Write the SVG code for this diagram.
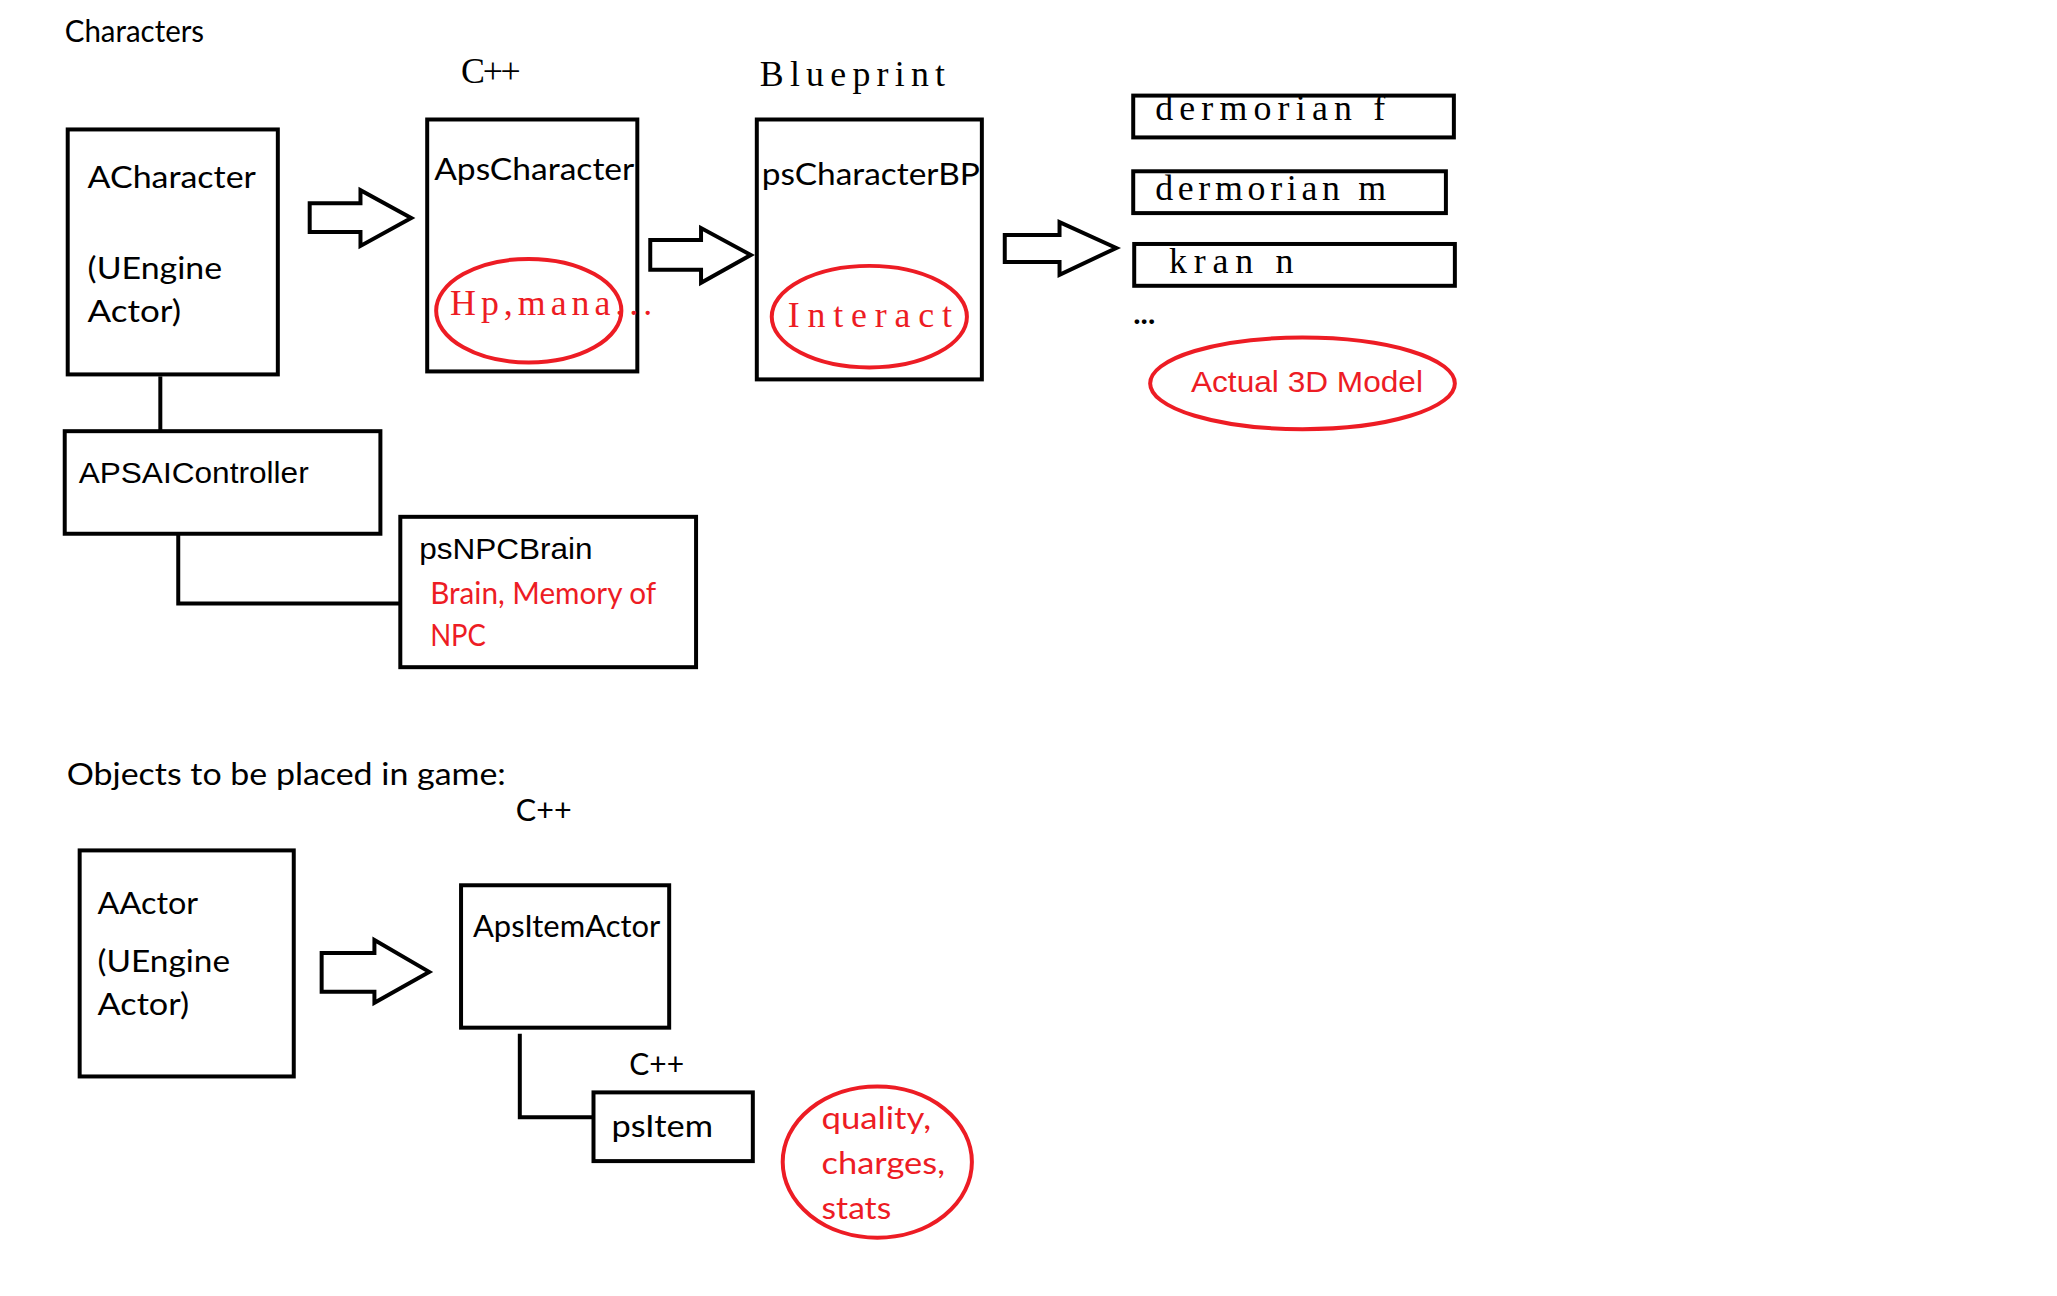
<svg xmlns="http://www.w3.org/2000/svg" width="2057" height="1296" viewBox="0 0 2057 1296">
<style>
.box{fill:#fff;stroke:#000;stroke-width:4}
.arr{fill:#fff;stroke:#000;stroke-width:4;stroke-linejoin:miter}
.ell{fill:none;stroke:#ED1C24;stroke-width:4}
.ln{fill:none;stroke:#000;stroke-width:4}
.cal{font-family:Lato,"Open Sans",sans-serif;font-size:31px;fill:#000}
.ari{font-family:"Liberation Sans",Arial,sans-serif;font-size:30px;fill:#000}
.mono{font-family:"Liberation Serif","Times New Roman",serif;font-size:36px;fill:#000}
.red{fill:#ED1C24}
</style>
<rect width="2057" height="1296" fill="#fff"/>
<g transform="scale(0.9958)">
<text class="cal" x="65" y="42" font-size="28" textLength="140" lengthAdjust="spacingAndGlyphs">Characters</text>
<text class="mono" x="463" y="83" font-size="31" textLength="60" lengthAdjust="spacing">C++</text>
<text class="mono" x="763" y="86" font-size="35" textLength="186" lengthAdjust="spacing">Blueprint</text>
<text class="cal" x="67" y="788" font-size="32" textLength="441" lengthAdjust="spacingAndGlyphs">Objects to be placed in game:</text>
<text class="cal" x="518" y="824" font-size="30" textLength="56" lengthAdjust="spacingAndGlyphs">C++</text>
<text class="cal" x="632" y="1080" font-size="30" textLength="55" lengthAdjust="spacingAndGlyphs">C++</text>
<text class="cal" x="1138" y="325" font-size="28" font-weight="bold">...</text>
<g id="connectors">
<line class="ln" x1="161" y1="378" x2="161" y2="432"/>
<polyline class="ln" points="179,537 179,606 402,606"/>
<polyline class="ln" points="522,1038 522,1122 596,1122"/>
<polygon class="arr" points="311,204 362,204 362,191 413,219 362,247 362,233 311,233"/>
<polygon class="arr" points="653,241 704,241 704,229 754,256 704,284 704,271 653,271"/>
<polygon class="arr" points="1009,236 1064,236 1064,223 1121,249 1064,276 1064,263 1009,263"/>
<polygon class="arr" points="323,957 376,957 376,944 431,976 376,1007 376,996 323,996"/>
</g>
<g id="ACharacter">
<rect class="box" x="68" y="130" width="211" height="246"/>
<text class="cal" x="88" y="189" textLength="169" lengthAdjust="spacingAndGlyphs">ACharacter</text>
<text class="cal" x="88" y="280" textLength="135" lengthAdjust="spacingAndGlyphs">(UEngine</text>
<text class="cal" x="88" y="323" textLength="94" lengthAdjust="spacingAndGlyphs">Actor)</text>
</g>
<g id="ApsCharacter">
<rect class="box" x="429" y="120" width="211" height="253"/>
<text class="cal" x="436" y="181" textLength="201" lengthAdjust="spacingAndGlyphs">ApsCharacter</text>
<ellipse class="ell" cx="531" cy="312" rx="93" ry="52"/>
<text class="mono red" x="452" y="316" font-size="34" textLength="203" lengthAdjust="spacing">Hp,mana...</text>
</g>
<g id="psCharacterBP">
<rect class="box" x="760" y="120" width="226" height="261"/>
<text class="cal" x="765" y="186" textLength="219" lengthAdjust="spacingAndGlyphs">psCharacterBP</text>
<ellipse class="ell" cx="873" cy="318" rx="98" ry="51"/>
<text class="mono red" x="791" y="328" textLength="165" lengthAdjust="spacing">Interact</text>
</g>
<g id="dermorian_f">
<rect class="box" x="1138" y="96" width="322" height="42"/>
<text class="mono" x="1160" y="121" textLength="231" lengthAdjust="spacing">dermorian f</text>
</g>
<g id="dermorian_m">
<rect class="box" x="1138" y="172" width="314" height="42"/>
<text class="mono" x="1160" y="201" textLength="232" lengthAdjust="spacing">dermorian m</text>
</g>
<g id="kran_n">
<rect class="box" x="1139" y="245" width="322" height="42"/>
<text class="mono" x="1174" y="274" textLength="125" lengthAdjust="spacing">kran n</text>
</g>
<g id="actual3d">
<ellipse class="ell" cx="1308" cy="385" rx="153" ry="46"/>
<text class="ari red" x="1196" y="394" textLength="233" lengthAdjust="spacingAndGlyphs">Actual 3D Model</text>
</g>
<g id="APSAIController">
<rect class="box" x="65" y="433" width="317" height="103"/>
<text class="ari" x="79" y="485" textLength="231" lengthAdjust="spacingAndGlyphs">APSAIController</text>
</g>
<g id="psNPCBrain">
<rect class="box" x="402" y="519" width="297" height="151"/>
<text class="ari" x="421" y="561" textLength="174" lengthAdjust="spacingAndGlyphs">psNPCBrain</text>
<text class="cal red" x="432" y="607" font-size="29" textLength="227" lengthAdjust="spacingAndGlyphs">Brain, Memory of</text>
<text class="cal red" x="432" y="649" font-size="29" textLength="56" lengthAdjust="spacingAndGlyphs">NPC</text>
</g>
<g id="AActor">
<rect class="box" x="80" y="854" width="215" height="227"/>
<text class="cal" x="98" y="918" textLength="101" lengthAdjust="spacingAndGlyphs">AActor</text>
<text class="cal" x="98" y="976" textLength="133" lengthAdjust="spacingAndGlyphs">(UEngine</text>
<text class="cal" x="98" y="1019" textLength="92" lengthAdjust="spacingAndGlyphs">Actor)</text>
</g>
<g id="ApsItemActor">
<rect class="box" x="463" y="889" width="209" height="143"/>
<text class="cal" x="475" y="941" textLength="188" lengthAdjust="spacingAndGlyphs">ApsItemActor</text>
</g>
<g id="psItem">
<rect class="box" x="596" y="1097" width="160" height="69"/>
<text class="cal" x="614" y="1142" textLength="102" lengthAdjust="spacingAndGlyphs">psItem</text>
</g>
<g id="itemStats">
<ellipse class="ell" cx="881" cy="1167" rx="95" ry="76"/>
<text class="cal red" x="825" y="1134" textLength="110" lengthAdjust="spacingAndGlyphs">quality,</text>
<text class="cal red" x="825" y="1179" textLength="124" lengthAdjust="spacingAndGlyphs">charges,</text>
<text class="cal red" x="825" y="1224" textLength="70" lengthAdjust="spacingAndGlyphs">stats</text>
</g>
</g>
</svg>
